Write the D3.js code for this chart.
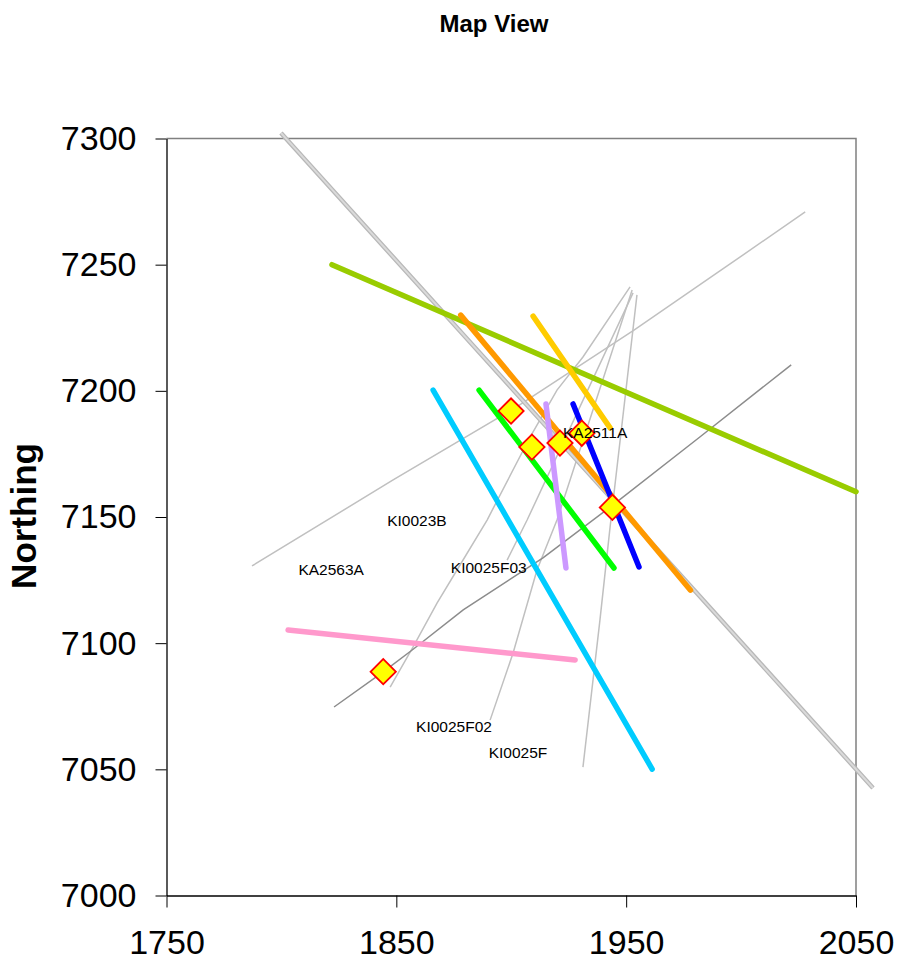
<!DOCTYPE html>
<html>
<head>
<meta charset="utf-8">
<script src="https://cdn.jsdelivr.net/npm/d3@7"></script>
<style>
  html, body { margin: 0; padding: 0; background: #fff; }
  svg { display: block; font-family: "Liberation Sans", Arial, sans-serif; }
</style>
</head>
<body>
<svg id="chart" width="898" height="965"></svg>
<script>
// ---------- data ----------
const xTicks = [1750, 1850, 1950, 2050];
const yTicks = [7000, 7050, 7100, 7150, 7200, 7250, 7300];

// borehole traces (Easting, Northing)
const traceMain = [[1799.8, 7302.2], [1877.0, 7224.4], [1944.0, 7156.9], [2057.4, 7042.6]];
const traceKI0023B = [[1787.2, 7130.6], [1848.6, 7164.7], [1903.0, 7194.0], [1953.4, 7224.1], [1990.0, 7247.0], [2027.9, 7270.9]];
const traceKA2563A = [[1822.9, 7074.7], [1844.3, 7088.6], [1856.9, 7097.3], [1879.1, 7113.2], [1913.8, 7133.8], [1944.3, 7154.8], [1982.2, 7181.8], [2021.8, 7210.3]];
const traceL1 = [[1847.3, 7082.6], [1857.3, 7098.5], [1867.7, 7115.9], [1876.4, 7129.0], [1889.5, 7148.8], [1908.2, 7181.7], [1919.9, 7200.3], [1931.2, 7213.4], [1951.7, 7241.2]];
const traceF03 = [[1898.2, 7132.9], [1906.9, 7148.8], [1953.0, 7238.8]];
const traceF02 = [[1890.8, 7069.5], [1900.8, 7096.1], [1911.2, 7129.0], [1919.9, 7148.8], [1952.6, 7240.0]];
const traceF = [[1931.2, 7050.9], [1938.6, 7109.2], [1943.0, 7146.0], [1954.7, 7238.0]];

// structures (coloured segments)
const segYellowGreen = [[1822, 7250], [2050, 7160]];
const segOrange = [[1878, 7230], [1978, 7121]];
const segGold = [[1909.5, 7229.6], [1943, 7185.3]];
const segGreen = [[1886, 7200.3], [1944.7, 7129.8]];
const segLavender = [[1915.1, 7194.8], [1923.8, 7129.8]];
const segBlue = [[1926.9, 7194.8], [1955.6, 7130.2]];
const segCyan = [[1866, 7200.3], [1961.3, 7050.1]];
const segPink = [[1802.9, 7105.2], [1927.8, 7093.3]];

// intersection markers
const markerX = [1899.9, 1909.0, 1921.2, 1930.7, 1944.0, 1844.3];
const markerY = [7192.0, 7177.7, 7179.3, 7183.2, 7153.8, 7088.7];

// borehole labels
const labelText = ["KA2511A", "KI0023B", "KA2563A", "KI0025F03", "KI0025F02", "KI0025F"];
const labelX = [1922.5, 1846.0, 1807.4, 1873.7, 1858.6, 1890.2];
const labelY = [7181.3, 7146.5, 7127.0, 7127.7, 7064.9, 7054.3];

// ---------- drawing ----------
const svg = d3.select("#chart");
const x = d3.scaleLinear().domain([1750, 2050]).range([166.5, 856]);
const y = d3.scaleLinear().domain([7000, 7300]).range([895.5, 138.5]);
const line = d3.line().x(d => x(d[0])).y(d => y(d[1]));

// title
svg.append("text").attr("x", 494).attr("y", 32).attr("text-anchor", "middle")
  .attr("font-size", 24).attr("font-weight", "bold").text("Map View");

// frame (top & right)
svg.append("path")
  .attr("d", `M${x(1750)},${y(7300)}H${x(2050)}V${y(7000)}`)
  .attr("fill", "none").attr("stroke", "#808080").attr("stroke-width", 1.5);

// axes
const yAxis = d3.axisLeft(y).tickValues(yTicks).tickSize(11).tickSizeOuter(0).tickPadding(19).tickFormat(d3.format("d"));
const gy = svg.append("g").attr("transform", `translate(${x(1750)},0)`).call(yAxis);
gy.selectAll("text").attr("font-size", 34).attr("fill", "#000").attr("font-family", "Liberation Sans, Arial, sans-serif");
gy.select(".domain").attr("stroke", "#000").attr("stroke-width", 1.3);
gy.selectAll(".tick line").attr("stroke", "#000");

const xAxis = d3.axisBottom(x).tickValues(xTicks).tickSize(12).tickSizeOuter(0).tickPadding(22).tickFormat(d3.format("d"));
const gx = svg.append("g").attr("transform", `translate(0,${y(7000)})`).call(xAxis);
gx.selectAll("text").attr("font-size", 34).attr("fill", "#000").attr("font-family", "Liberation Sans, Arial, sans-serif");
gx.select(".domain").attr("stroke", "#000").attr("stroke-width", 1.3);
gx.selectAll(".tick line").attr("stroke", "#000");

// y axis title
svg.append("text").attr("transform", `translate(36,516) rotate(-90)`).attr("text-anchor", "middle")
  .attr("font-size", 35).attr("font-weight", "bold").text("Northing");

// traces
const traceStyles = [
  [traceKI0023B, "#c0c0c0", 1.5],
  [traceL1, "#c0c0c0", 1.5],
  [traceF03, "#c0c0c0", 1.5],
  [traceF02, "#c0c0c0", 1.5],
  [traceF, "#c0c0c0", 1.5],
  [traceKA2563A, "#8c8c8c", 1.5]
];
traceStyles.forEach(([d, c, w]) => {
  svg.append("path").attr("d", line(d)).attr("fill", "none").attr("stroke", c).attr("stroke-width", w);
});

// main double trace
svg.append("path").attr("d", line(traceMain)).attr("fill", "none").attr("stroke", "#b8b8b8").attr("stroke-width", 4.5);
svg.append("path").attr("d", line(traceMain)).attr("fill", "none").attr("stroke", "#dadada").attr("stroke-width", 2);

// coloured structures
const segStyles = [
  [segYellowGreen, "#99cc00"],
  [segOrange, "#ff9900"],
  [segGold, "#ffcc00"],
  [segGreen, "#00ff00"],
  [segLavender, "#cc99ff"],
  [segBlue, "#0000ff"],
  [segCyan, "#00ccff"],
  [segPink, "#ff99cc"]
];
segStyles.forEach(([d, c]) => {
  svg.append("path").attr("d", line(d)).attr("fill", "none").attr("stroke", c)
    .attr("stroke-width", 5.5).attr("stroke-linecap", "round");
});

// markers
const sym = d3.symbol().type(d3.symbolSquare).size(320);
markerX.forEach((mx, i) => {
  svg.append("path").attr("d", sym())
    .attr("transform", `translate(${x(mx)},${y(markerY[i])}) rotate(45)`)
    .attr("fill", "#ffff00").attr("stroke", "#ff0000").attr("stroke-width", 1.8);
});

// labels
labelText.forEach((t, i) => {
  svg.append("text").attr("x", x(labelX[i])).attr("y", y(labelY[i]))
    .attr("font-size", 15.5).attr("fill", "#000").text(t);
});
</script>
</body>
</html>
